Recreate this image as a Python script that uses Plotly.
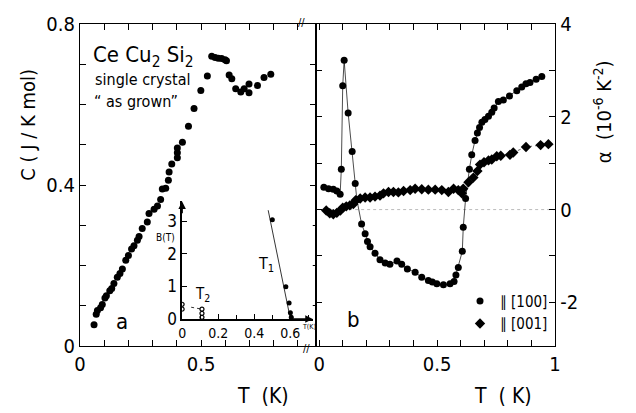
import plotly.graph_objects as go

# ---- panel a: specific heat ----
c_T = [0.058, 0.067, 0.072, 0.085, 0.092, 0.103, 0.109, 0.123, 0.131, 0.140, 0.154, 0.165,
       0.175, 0.189, 0.200, 0.213, 0.223, 0.237, 0.244, 0.257, 0.278, 0.285, 0.306, 0.320,
       0.333, 0.340, 0.354, 0.365, 0.368, 0.379, 0.402, 0.402, 0.402, 0.423, 0.448, 0.471,
       0.499, 0.526, 0.544, 0.558, 0.571, 0.585, 0.599, 0.605, 0.616, 0.627, 0.643, 0.664,
       0.678, 0.698, 0.698, 0.733, 0.760, 0.788]
c_C = [0.053, 0.079, 0.088, 0.095, 0.103, 0.119, 0.125, 0.137, 0.143, 0.155, 0.171, 0.180,
       0.191, 0.213, 0.225, 0.241, 0.249, 0.263, 0.272, 0.292, 0.308, 0.329, 0.340, 0.348,
       0.364, 0.390, 0.392, 0.412, 0.432, 0.452, 0.468, 0.480, 0.492, 0.506, 0.546, 0.590,
       0.635, 0.671, 0.720, 0.717, 0.715, 0.714, 0.711, 0.709, 0.673, 0.664, 0.639, 0.631,
       0.639, 0.629, 0.651, 0.647, 0.667, 0.675]

# ---- inset: phase diagram B(T) ----
t1_T = [0.50, 0.575, 0.593, 0.600, 0.605]
t1_B = [3.05, 0.99, 0.49, 0.19, 0.05]
t1_line_T = [0.477, 0.600]
t1_line_B = [3.34, 0.0]
t2_T = [0.0, 0.0, 0.11, 0.11, 0.11]
t2_B = [0.45, 0.30, 0.30, 0.17, 0.05]
t2_line_T = [0.05, 0.11]
t2_line_B = [0.36, 0.30]

# ---- panel b: thermal expansion ----
a100_T = [0.02, 0.04, 0.06, 0.075, 0.089, 0.094, 0.100, 0.106, 0.123, 0.140, 0.153, 0.160,
          0.180, 0.195, 0.205, 0.216, 0.237, 0.258, 0.280, 0.300, 0.330, 0.350, 0.374, 0.407,
          0.435, 0.463, 0.480, 0.499, 0.527, 0.555, 0.572, 0.580, 0.590, 0.607, 0.611, 0.621,
          0.637, 0.647, 0.661, 0.671, 0.680, 0.690, 0.703, 0.718, 0.732, 0.742, 0.760, 0.781,
          0.807, 0.838, 0.859, 0.877, 0.894, 0.920, 0.944]
a100_a = [0.48, 0.45, 0.44, 0.40, 0.33, 0.87, 2.67, 3.22, 2.08, 1.25, 0.56, 0.21,
          -0.31, -0.52, -0.69, -0.80, -0.94, -1.08, -1.15, -1.18, -1.11, -1.18, -1.28, -1.35,
          -1.46, -1.53, -1.56, -1.60, -1.62, -1.60, -1.55, -1.41, -1.25, -0.90, -0.38, 0.24,
          0.87, 1.18, 1.49, 1.65, 1.77, 1.88, 1.94, 2.01, 2.10, 2.19, 2.33, 2.36,
          2.45, 2.56, 2.64, 2.71, 2.74, 2.81, 2.87]
a001_T = [0.03, 0.045, 0.06, 0.075, 0.09, 0.10, 0.115, 0.13, 0.145, 0.155, 0.174, 0.195,
          0.216, 0.237, 0.258, 0.273, 0.294, 0.315, 0.336, 0.358, 0.386, 0.407, 0.435, 0.463,
          0.492, 0.520, 0.548, 0.570, 0.590, 0.605, 0.611, 0.633, 0.654, 0.671, 0.682, 0.699,
          0.718, 0.732, 0.753, 0.770, 0.809, 0.823, 0.877, 0.939, 0.972]
a001_a = [-0.02, -0.08, -0.10, -0.07, -0.02, 0.04, 0.07, 0.09, 0.12, 0.20, 0.24, 0.26,
          0.26, 0.28, 0.30, 0.35, 0.38, 0.38, 0.37, 0.40, 0.42, 0.45, 0.44, 0.43,
          0.43, 0.42, 0.38, 0.45, 0.42, 0.35, 0.45, 0.59, 0.69, 0.83, 0.97, 1.02,
          1.06, 1.08, 1.15, 1.16, 1.18, 1.23, 1.35, 1.39, 1.41]

# ---- tick labels ----
xa_ticks = [0, 0.1, 0.2, 0.3, 0.4, 0.5, 0.6, 0.7, 0.8, 0.9]
xa_labels = ["0", "", "", "", "", "0.5", "", "", "", ""]
ya_ticks = [0, 0.1, 0.2, 0.3, 0.4, 0.5, 0.6, 0.7, 0.8]
ya_labels = ["0", "", "", "", "0.4", "", "", "", "0.8"]
xb_ticks = [0, 0.1, 0.2, 0.3, 0.4, 0.5, 0.6, 0.7, 0.8, 0.9, 1.0]
xb_labels = ["0", "", "", "", "", "0.5", "", "", "", "", "1"]
yb_ticks = [-2, -1, 0, 1, 2, 3, 4]
yb_labels = ["-2", "", "0", "", "2", "", "4"]
xi_ticks = [0, 0.2, 0.4, 0.6]
xi_labels = ["0", "0.2", "0.4", "0.6"]
yi_ticks = [0, 1, 2, 3]
yi_labels = ["0", "1", "2", "3"]

FONT = "DejaVu Sans Condensed, Liberation Sans Narrow, DejaVu Sans, sans-serif"
BLK = "black"

fig = go.Figure()

# panel a
fig.add_trace(go.Scatter(x=c_T, y=c_C, mode="markers", xaxis="x", yaxis="y",
                         marker=dict(color=BLK, size=7), showlegend=False))
# inset
fig.add_trace(go.Scatter(x=t1_line_T, y=t1_line_B, mode="lines", xaxis="x3", yaxis="y3",
                         line=dict(color=BLK, width=0.8), showlegend=False))
fig.add_trace(go.Scatter(x=t1_T, y=t1_B, mode="markers", xaxis="x3", yaxis="y3",
                         marker=dict(color=BLK, size=5), showlegend=False))
fig.add_trace(go.Scatter(x=t2_line_T, y=t2_line_B, mode="lines", xaxis="x3", yaxis="y3",
                         line=dict(color=BLK, width=0.8, dash="dot"), showlegend=False))
fig.add_trace(go.Scatter(x=t2_T, y=t2_B, mode="markers", xaxis="x3", yaxis="y3",
                         marker=dict(color=BLK, size=4, symbol="circle-open",
                                     line=dict(color=BLK, width=1.2)), showlegend=False))
# panel b: connecting lines
fig.add_trace(go.Scatter(x=a100_T, y=a100_a, mode="lines", xaxis="x2", yaxis="y2",
                         line=dict(color=BLK, width=0.7), showlegend=False))
fig.add_trace(go.Scatter(x=a001_T, y=a001_a, mode="lines", xaxis="x2", yaxis="y2",
                         line=dict(color=BLK, width=0.6, dash="dot"), showlegend=False))
# panel b: markers
fig.add_trace(go.Scatter(x=a100_T, y=a100_a, mode="markers", xaxis="x2", yaxis="y2",
                         name="\u2225 [100]",
                         marker=dict(color=BLK, size=7, symbol="circle")))
fig.add_trace(go.Scatter(x=a001_T, y=a001_a, mode="markers", xaxis="x2", yaxis="y2",
                         name="\u2225 [001]",
                         marker=dict(color=BLK, size=8, symbol="diamond")))

tickfont = dict(family=FONT, size=20, color=BLK)
common = dict(showline=True, linecolor=BLK, linewidth=1.3, ticks="inside", ticklen=6,
              tickcolor=BLK, tickwidth=1.2, mirror="ticks", showgrid=False, zeroline=False,
              tickfont=tickfont, tickmode="array")

fig.update_layout(
    width=636, height=413,
    margin=dict(l=80, r=81, t=14, b=67),
    paper_bgcolor="white", plot_bgcolor="white",
    font=dict(family=FONT, color=BLK),
    xaxis=dict(domain=[0, 0.497], range=[0, 0.975], anchor="y",
               tickvals=xa_ticks, ticktext=xa_labels, **common),
    yaxis=dict(domain=[0, 1], range=[0, 0.8], anchor="x",
               tickvals=ya_ticks, ticktext=ya_labels, **common),
    xaxis2=dict(domain=[0.497, 1], range=[-0.013, 1], anchor="y2",
                tickvals=xb_ticks, ticktext=xb_labels, **common),
    yaxis2=dict(domain=[0, 1], range=[-2.94, 4], anchor="x2", side="right",
                tickvals=yb_ticks, ticktext=yb_labels, **common),
    xaxis3=dict(domain=[0.215, 0.49], range=[0, 0.724], anchor="y3",
                showline=True, linecolor=BLK, linewidth=1.5, ticks="inside", ticklen=5,
                tickcolor=BLK, showgrid=False, zeroline=False,
                tickvals=xi_ticks, ticktext=xi_labels,
                minor=dict(dtick=0.1, tick0=0, ticks="inside", ticklen=4, tickcolor=BLK),
                tickfont=dict(family=FONT, size=14, color=BLK)),
    yaxis3=dict(domain=[0.084, 0.449], range=[0, 3.61], anchor="x3",
                showline=True, linecolor=BLK, linewidth=1.5, ticks="inside", ticklen=5,
                tickcolor=BLK, showgrid=False, zeroline=False,
                tickvals=yi_ticks, ticktext=yi_labels,
                tickfont=dict(family=FONT, size=17, color=BLK)),
    legend=dict(x=0.80, y=0.19, xanchor="left", yanchor="top",
                font=dict(family=FONT, size=15, color=BLK),
                bgcolor="rgba(0,0,0,0)", itemwidth=30, tracegroupgap=2),
    shapes=[dict(type="line", xref="x2", yref="y2", x0=0, x1=1, y0=0, y1=0,
                 line=dict(color="#bbbbbb", width=1, dash="dot"), layer="below")],
)

ann = [
    dict(text="C ( J / K mol)", x=28, y=118, textangle=-90, size=20),
    dict(text="\u03b1  (10<sup>-6</sup> K<sup>-2</sup>)", x=603, y=105, textangle=-90, size=20),
    dict(text="T  (K)", x=263, y=398, size=21),
    dict(text="T  ( K)", x=503, y=398, size=21),
    dict(text="Ce Cu<sub>2</sub> Si<sub>2</sub>", x=143, y=47, size=22),
    dict(text="single crystal", x=143, y=71, size=16),
    dict(text="\u201c as grown\u201d", x=136, y=94, size=16),
    dict(text="a", x=122, y=321, size=22),
    dict(text="b", x=353, y=319, size=22),
    dict(text="T<sub>1</sub>", x=266, y=262, size=16),
    dict(text="T<sub>2</sub>", x=202, y=293, size=15),
    dict(text="B(T)", x=165, y=234, size=10),
    dict(text="T(K)", x=309, y=326, size=7),
    dict(text="//", x=301, y=12, size=11),
    dict(text="//", x=306, y=349, size=11),
]
annotations = []
for a in ann:
    annotations.append(dict(
        text=a["text"], xref="paper", yref="paper",
        x=(a["x"] - 80) / 475, y=(346 - a["y"]) / 332,
        xanchor="center", yanchor="middle", showarrow=False,
        textangle=a.get("textangle", 0),
        font=dict(family=FONT, size=a["size"], color=BLK)))
# inset axis arrows
annotations.append(dict(x=0.724, y=0, xref="x3", yref="y3", ax=0.60, ay=0,
                        axref="x3", ayref="y3", showarrow=True, arrowhead=2,
                        arrowsize=1, arrowwidth=1.5, arrowcolor=BLK, text=""))
annotations.append(dict(x=0, y=3.61, xref="x3", yref="y3", ax=0, ay=3.2,
                        axref="x3", ayref="y3", showarrow=True, arrowhead=2,
                        arrowsize=1, arrowwidth=1.5, arrowcolor=BLK, text=""))
fig.update_layout(annotations=annotations)

fig.write_html("out.html")
